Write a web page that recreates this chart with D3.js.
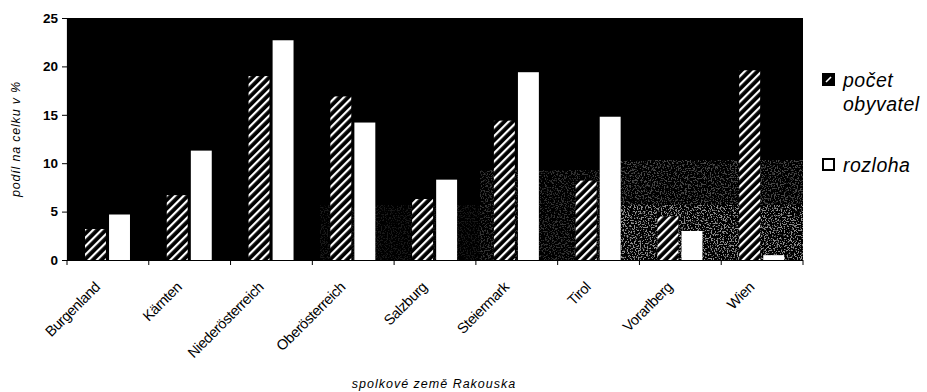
<!DOCTYPE html>
<html>
<head>
<meta charset="utf-8">
<script src="https://cdn.jsdelivr.net/npm/d3@7"></script>
<style>
  html, body { margin: 0; padding: 0; background: #fff; }
  svg { display: block; font-family: Arial, "Liberation Sans", Helvetica, sans-serif; }
</style>
</head>
<body>
<svg id="chart" width="927" height="392"></svg>
<script>
// Podíl spolkových zemí Rakouska na počtu obyvatel a na rozloze (v %)
const categories = ["Burgenland", "Kärnten", "Niederösterreich", "Oberösterreich",
                    "Salzburg", "Steiermark", "Tirol", "Vorarlberg", "Wien"];
const seriesNames = ["počet obyvatel", "rozloha"];
const populationShare = [3.2, 6.7, 19.0, 16.9, 6.3, 14.4, 8.2, 4.5, 19.6];
const areaShare       = [4.7, 11.3, 22.7, 14.2, 8.3, 19.4, 14.8, 3.0, 0.5];
const yTicks = [0, 5, 10, 15, 20, 25];

const seriesValues = [populationShare, areaShare];

const svg = d3.select("#chart");
const plot = { left: 67, right: 803, top: 18, bottom: 260 };

const defs = svg.append("defs");

// diagonal white hatching on black
const hatch = defs.append("pattern")
  .attr("id", "hatch")
  .attr("patternUnits", "userSpaceOnUse")
  .attr("width", 6).attr("height", 6)
  .attr("patternTransform", "rotate(45)");
hatch.append("rect").attr("width", 6).attr("height", 6).attr("fill", "#000");
hatch.append("rect").attr("x", 0).attr("y", 0).attr("width", 2.2).attr("height", 6).attr("fill", "#fff");

// speckled grain in the plot background
const grain = defs.append("filter").attr("id", "grain")
  .attr("x", 0).attr("y", 0).attr("width", 1).attr("height", 1);
grain.append("feTurbulence")
  .attr("type", "fractalNoise").attr("baseFrequency", 0.7)
  .attr("numOctaves", 3).attr("seed", 11).attr("result", "n");
grain.append("feColorMatrix").attr("in", "n").attr("type", "matrix")
  .attr("values", "0 0 0 0 0.6  0 0 0 0 0.6  0 0 0 0 0.6  0 0 0 10 -5.2");

const y = d3.scaleLinear().domain([0, 25]).range([plot.bottom, plot.top]);
const x = d3.scaleBand().domain(categories).range([plot.left, plot.right]).padding(0);
const xs = d3.scaleBand().domain(seriesNames).range([18, x.bandwidth() - 18.8]).paddingInner(0.13);

// plot background
svg.append("rect")
  .attr("x", plot.left).attr("y", plot.top)
  .attr("width", plot.right - plot.left).attr("height", plot.bottom - plot.top)
  .attr("fill", "#000");

const grainAreas = [
  { x0: 600, x1: plot.right, y0: 205, y1: plot.bottom, o: 0.7 },
  { x0: 600, x1: plot.right, y0: 160, y1: 205, o: 0.35 },
  { x0: 480, x1: 600, y0: 170, y1: plot.bottom, o: 0.25 },
  { x0: 320, x1: 480, y0: 205, y1: plot.bottom, o: 0.12 }
];
svg.append("g").selectAll("rect").data(grainAreas).join("rect")
  .attr("x", d => d.x0).attr("y", d => d.y0)
  .attr("width", d => d.x1 - d.x0).attr("height", d => d.y1 - d.y0)
  .attr("filter", "url(#grain)")
  .attr("opacity", d => d.o);

// bars
const groups = svg.append("g").selectAll("g")
  .data(categories).join("g")
  .attr("transform", d => `translate(${x(d)},0)`);

groups.selectAll("rect")
  .data((c, i) => seriesNames.map((s, k) => ({ s, k, v: seriesValues[k][i] })))
  .join("rect")
  .attr("x", d => xs(d.s))
  .attr("width", xs.bandwidth())
  .attr("y", d => y(d.v))
  .attr("height", d => y(0) - y(d.v))
  .attr("fill", d => d.k === 0 ? "url(#hatch)" : "#fff");

// y axis
const yAxis = svg.append("g")
  .attr("transform", `translate(${plot.left},0)`)
  .call(d3.axisLeft(y).tickValues(yTicks).tickSize(5).tickPadding(4));
yAxis.select(".domain").attr("stroke", "#000").attr("stroke-width", 1.2);
yAxis.selectAll(".tick line").attr("stroke", "#000");
yAxis.selectAll(".tick text")
  .attr("font-size", 13.5).attr("font-weight", "bold").attr("fill", "#000")
  .attr("font-family", "Arial, 'Liberation Sans', sans-serif");

// x axis: ticks on the category boundaries
const bounds = categories.map(c => x(c)).concat([plot.right]);
const xAxisG = svg.append("g");
xAxisG.append("line")
  .attr("x1", plot.left).attr("x2", plot.right)
  .attr("y1", plot.bottom + 0.5).attr("y2", plot.bottom + 0.5)
  .attr("stroke", "#000").attr("stroke-width", 1.2);
xAxisG.selectAll("line.tick").data(bounds).join("line")
  .attr("class", "tick")
  .attr("x1", d => d).attr("x2", d => d)
  .attr("y1", plot.bottom).attr("y2", plot.bottom + 5)
  .attr("stroke", "#000");

xAxisG.selectAll("text").data(categories).join("text")
  .attr("transform", d => `translate(${x(d) + x.bandwidth() / 2 - 7},${plot.bottom + 28}) rotate(-45)`)
  .attr("text-anchor", "end")
  .attr("font-size", 14.5)
  .attr("letter-spacing", "-0.4")
  .attr("fill", "#000")
  .text(d => d);

// axis titles
svg.append("text")
  .attr("transform", "translate(20,139) rotate(-90)")
  .attr("text-anchor", "middle")
  .attr("font-size", 12.5).attr("font-style", "italic")
  .attr("letter-spacing", "0.8")
  .text("podíl na celku v %");

svg.append("text")
  .attr("x", 434).attr("y", 388)
  .attr("text-anchor", "middle")
  .attr("font-size", 12.5).attr("font-style", "italic")
  .attr("letter-spacing", "1")
  .text("spolkové země Rakouska");

// legend
const legendItems = [
  { k: 0, lines: ["počet", "obyvatel"], top: 74 },
  { k: 1, lines: ["rozloha"], top: 159 }
];
const legend = svg.append("g").selectAll("g").data(legendItems).join("g");
legend.append("rect")
  .attr("x", 823).attr("y", d => d.top)
  .attr("width", 11).attr("height", 11)
  .attr("fill", d => d.k === 0 ? "#000" : "#fff")
  .attr("stroke", "#000").attr("stroke-width", 2);
legend.filter(d => d.k === 0).append("line")
  .attr("x1", 826).attr("y1", d => d.top + 8)
  .attr("x2", 831).attr("y2", d => d.top + 3)
  .attr("stroke", "#fff").attr("stroke-width", 1.6);
legend.each(function(d) {
  const t = d3.select(this).append("text")
    .attr("font-size", 19.5).attr("font-style", "italic")
    .attr("letter-spacing", "0.5")
    .attr("fill", "#000");
  d.lines.forEach((ln, i) => {
    t.append("tspan").attr("x", 843).attr("y", d.top + 13 + i * 24).text(ln);
  });
});
</script>
</body>
</html>
